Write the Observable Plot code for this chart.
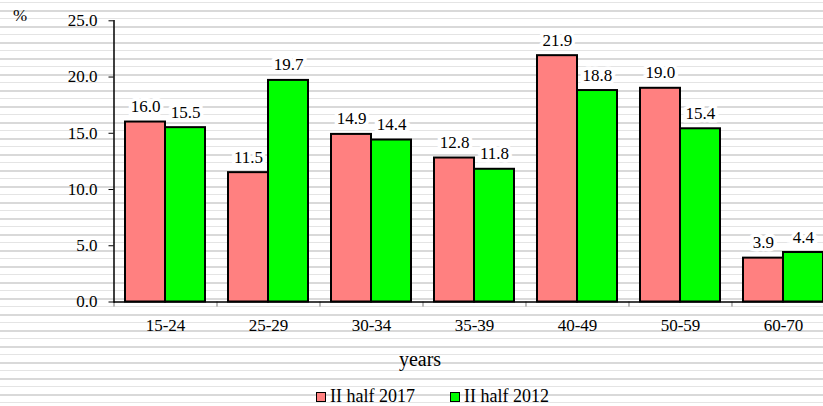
<!DOCTYPE html>
<html>
<head>
<meta charset="utf-8">
<script src="https://cdn.jsdelivr.net/npm/d3@7"></script>
<script src="https://cdn.jsdelivr.net/npm/@observablehq/plot@0.6"></script>
<style>
  html, body { margin: 0; padding: 0; background: #fff; }
  #chart {
    position: relative; width: 823px; height: 406px; overflow: hidden;
    font-family: "Liberation Serif", serif; color: #000;
    background: repeating-linear-gradient(to bottom,
      #fff 0px, #fff 2px, #e4e4e4 2px, #e4e4e4 3px, #fff 3px, #fff 10px,
      #d9d9d9 10px, #d9d9d9 12px, #fff 12px, #fff 16px);
  }
  #chart svg { position: absolute; left: 0; top: 0; }
  .lbl { position: absolute; white-space: nowrap; }
  .legend { position: absolute; left: 316px; top: 386px; display: flex; align-items: center; font-size: 18px; line-height: 20px; }
  .legend .item { display: flex; align-items: center; }
  .legend .sw { width: 8px; height: 8px; border: 1.5px solid #000; margin-right: 4px; position: relative; top: 1px; }
</style>
</head>
<body>
<div id="chart"></div>
<script>
const categories = ["15-24", "25-29", "30-34", "35-39", "40-49", "50-59", "60-70"];
const series2017 = [16.0, 11.5, 14.9, 12.8, 21.9, 19.0, 3.9];
const series2012 = [15.5, 19.7, 14.4, 11.8, 18.8, 15.4, 4.4];
const seriesNames = ["II half 2017", "II half 2012"];
const seriesColors = ["#ff8080", "#00ff00"];
const yTicks = [0, 5, 10, 15, 20, 25];

const rows2017 = categories.map((c, i) => ({cat: c, value: series2017[i]}));
const rows2012 = categories.map((c, i) => ({cat: c, value: series2012[i]}));

const W = 823, H = 406;
const serif = "Liberation Serif";

const plot = Plot.plot({
  width: W,
  height: H,
  marginLeft: 113.5,
  marginRight: -11.5,
  marginTop: 20.3,
  marginBottom: 104.5,
  style: {background: "transparent", overflow: "visible", fontFamily: serif},
  x: {domain: categories, paddingInner: 0.2233, paddingOuter: 0.1117, round: false, axis: null},
  y: {domain: [0, 25], axis: null},
  marks: [
    Plot.barY(rows2017, {x: "cat", y: "value", insetRight: 40, fill: seriesColors[0], stroke: "#000", strokeWidth: 2}),
    Plot.barY(rows2012, {x: "cat", y: "value", insetLeft: 40, fill: seriesColors[1], stroke: "#000", strokeWidth: 2}),
    Plot.text(rows2017, {x: "cat", y: "value", text: d => d.value.toFixed(1), dx: -20, dy: -10, lineAnchor: "bottom",
      fontFamily: serif, fontSize: 17, fill: "#000", stroke: "white", strokeWidth: 7, strokeLinejoin: "miter"}),
    Plot.text(rows2012, {x: "cat", y: "value", text: d => d.value.toFixed(1), dx: 20, dy: -10, lineAnchor: "bottom",
      fontFamily: serif, fontSize: 17, fill: "#000", stroke: "white", strokeWidth: 7, strokeLinejoin: "miter"}),
    Plot.axisY({ticks: yTicks, tickFormat: d => d.toFixed(1), tickSize: 5, tickPadding: 11.5, fontFamily: serif, fontSize: 17, color: "#000", label: null}),
    Plot.axisX({tickSize: 0, tickPadding: 16.5, fontFamily: serif, fontSize: 17, color: "#000", label: null}),
    Plot.ruleX(categories, {x: d => d, y1: 0, y2: -0.45, dx: -51.5, stroke: "#777", strokeWidth: 1}),
    Plot.frame({anchor: "left", stroke: "#000", strokeWidth: 1.5}),
    Plot.ruleY([0], {stroke: "#000", strokeWidth: 1.5})
  ]
});

const chart = document.getElementById("chart");
chart.appendChild(plot);

const pct = document.createElement("div");
pct.className = "lbl";
pct.style.cssText = "left:13px;top:6px;font-size:17px;line-height:19px;";
pct.textContent = "%";
chart.appendChild(pct);

const xl = document.createElement("div");
xl.className = "lbl";
xl.style.cssText = "left:370px;width:100px;text-align:center;top:348px;font-size:20px;line-height:22px;";
xl.textContent = "years";
chart.appendChild(xl);

const legend = document.createElement("div");
legend.className = "legend";
seriesNames.forEach((name, i) => {
  const item = document.createElement("div");
  item.className = "item";
  if (i > 0) item.style.marginLeft = "35px";
  const sw = document.createElement("span");
  sw.className = "sw";
  sw.style.background = seriesColors[i];
  const t = document.createElement("span");
  t.textContent = name;
  item.appendChild(sw);
  item.appendChild(t);
  legend.appendChild(item);
});
chart.appendChild(legend);
</script>
</body>
</html>
